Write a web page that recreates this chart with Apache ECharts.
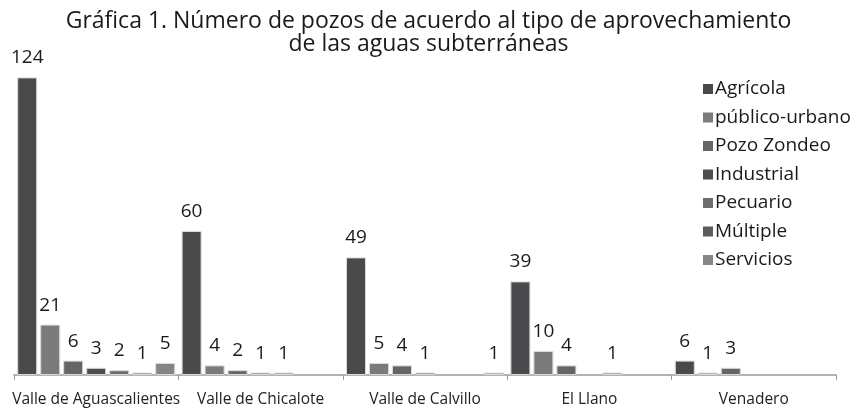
<!DOCTYPE html>
<html>
<head>
<meta charset="utf-8">
<script src="https://cdn.jsdelivr.net/npm/echarts@6/dist/echarts.min.js"></script>
<style>
  html, body { margin: 0; padding: 0; background: #fff; }
  #main { width: 857px; height: 413px; }
</style>
</head>
<body>
<div id="main"></div>
<script>
// datos ('-' = sin pozos)
const valles = ['Valle de Aguascalientes', 'Valle de Chicalote', 'Valle de Calvillo', 'El Llano', 'Venadero']
const agricola = [124, 60, 49, 39, 6]
const publicoUrbano = [21, 4, 5, 10, 1]
const pozoZondeo = [6, 2, 4, 4, 3]
const industrial = [3, 1, 1, '-', '-']
const pecuario = [2, 1, '-', 1, '-']
const multiple = [1, '-', '-', '-', '-']
const servicios = [5, '-', 1, '-', '-']

const series = [
  { name: 'Agrícola', data: agricola, color: '#4a4a4c' },
  { name: 'público-urbano', data: publicoUrbano, color: '#7b7b7d' },
  { name: 'Pozo Zondeo', data: pozoZondeo, color: '#656567' },
  { name: 'Industrial', data: industrial, color: '#4e4e50' },
  { name: 'Pecuario', data: pecuario, color: '#6d6d6f' },
  { name: 'Múltiple', data: multiple, color: '#5c5c5e' },
  { name: 'Servicios', data: servicios, color: '#858587' }
]

const font = 'Open Sans'
const chart = echarts.init(document.getElementById('main'))

chart.setOption({
  animation: false,
  textStyle: { fontFamily: font },
  title: {
    text: 'Gráfica 1. Número de pozos de acuerdo al tipo de aprovechamiento\nde las aguas subterráneas',
    left: 'center',
    top: 5,
    textStyle: { fontFamily: font, fontSize: 23, fontWeight: 'normal', color: '#1a1a1a', lineHeight: 23 }
  },
  legend: {
    orient: 'vertical',
    left: 698,
    top: 74,
    itemWidth: 10,
    itemHeight: 10,
    itemGap: 8.5,
    icon: 'rect',
    itemStyle: { borderWidth: 0 },
    textStyle: { fontFamily: font, fontSize: 19, lineHeight: 20, color: '#1a1a1a', padding: [0, 0, 0, -3] }
  },
  grid: { left: 14, right: 21, top: 75, bottom: 38 },
  xAxis: {
    type: 'category',
    data: valles,
    axisLine: { lineStyle: { color: '#9a9a9a', width: 1.5 } },
    axisTick: { show: true, length: 5, lineStyle: { color: '#9a9a9a' } },
    axisLabel: { interval: 0, fontFamily: font, fontSize: 15.5, color: '#222', margin: 17 }
  },
  yAxis: {
    type: 'value',
    min: 0,
    max: 125,
    show: false,
    splitLine: { show: false }
  },
  series: series.map(s => ({
    name: s.name,
    type: 'bar',
    data: s.data,
    barWidth: 20,
    barGap: '15%',
    itemStyle: { color: s.color, borderColor: '#dadada', borderWidth: 1 },
    label: {
      show: true,
      position: 'top',
      distance: 10,
      fontFamily: font,
      fontSize: 19,
      color: '#1a1a1a'
    }
  }))
})
</script>
</body>
</html>
